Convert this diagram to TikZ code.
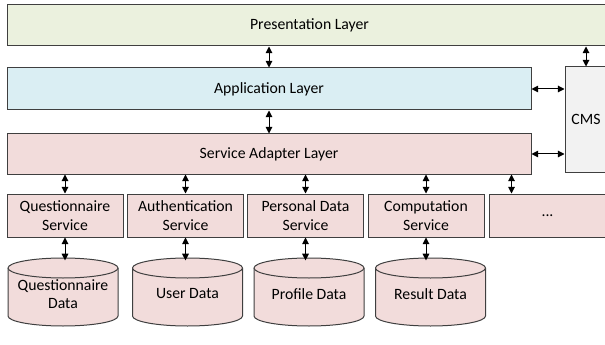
\documentclass[tikz,border=0pt]{standalone}
\usepackage{fontspec}
\setmainfont{Carlito}
\usetikzlibrary{arrows.meta}
\definecolor{presfill}{HTML}{EBF1DE}
\definecolor{appfill}{HTML}{DAEEF3}
\definecolor{pinkfill}{HTML}{F2DCDB}
\definecolor{cmsfill}{HTML}{F2F2F2}
\definecolor{edge}{HTML}{3F3F3F}
\newcommand\mydb[3]{%
  \filldraw[dbline] (#2-55,268) -- (#2-55,316) arc(180:360:41.25pt and 7.5pt) -- (#2+55,268) arc(0:180:41.25pt and 7.5pt) -- cycle;
  \draw[dbline] (#2-55,268) arc(180:360:41.25pt and 7.5pt);
  \node[dbtext] (#1) at (#2,292) {#3};}
\begin{document}
\begin{tikzpicture}[x=0.75pt,y=-0.75pt,
  font=\fontsize{11.8}{14}\selectfont,
  box/.style={draw=edge,line width=0.75pt,rectangle,inner sep=0pt,align=center},
  layer/.style={box,minimum width=393pt},
  svc/.style={box,fill=pinkfill,minimum width=87pt,minimum height=32.25pt},
  dbline/.style={draw=edge,line width=0.75pt,fill=pinkfill},
  dbtext/.style={rectangle,inner sep=0pt,minimum width=82.5pt,minimum height=51pt,align=center,yshift=-1.5pt},
  arr/.style={{Triangle[length=5pt,width=5pt]}-{Triangle[length=5pt,width=5pt]},line width=0.75pt,black}]
\useasboundingbox (0,0) rectangle (605,345);
\clip (0,0) rectangle (605,345);
\node[box,fill=presfill,minimum width=453.75pt,minimum height=30.75pt] (pres) at (309.5,25.5) {Presentation Layer};
\node[layer,fill=appfill,minimum height=31.5pt] (app) at (269,89) {Application Layer};
\node[layer,fill=pinkfill,minimum height=30pt] (sal) at (269,154) {Service Adapter Layer};
\node[box,fill=cmsfill,minimum width=31.5pt,minimum height=78.75pt] (cms) at (586,119.5) {CMS};
\node[svc] (qs) at (65,215.5) {Questionnaire\\Service};
\node[svc] (as) at (185.5,215.5) {Authentication\\Service};
\node[svc] (ps) at (305.5,215.5) {Personal Data\\Service};
\node[svc] (cs) at (426,215.5) {Computation\\Service};
\node[svc,minimum width=87.75pt] (ds) at (547.5,215.5) {...};
\mydb{qd}{63}{Questionnaire\\Data}
\mydb{ud}{187.5}{User Data}
\mydb{pd}{309}{Profile Data}
\mydb{rd}{430.5}{Result Data}
\draw[arr] (app.north |- pres.south) -- (app.north);
\draw[arr] (cms.north |- pres.south) -- (cms.north);
\draw[arr] (app.east) -- (app.east -| cms.west);
\draw[arr] (sal.east) -- (sal.east -| cms.west);
\draw[arr] (app.south) -- (app.south |- sal.north);
\foreach \s in {qs,as,ps,cs} {\draw[arr] (\s.north |- sal.south) -- (\s.north);}
\path (ds.north west) ++(23,0) coordinate (dtop);
\draw[arr] (dtop |- sal.south) -- (dtop);
\draw[arr] (qs.south) -- ([yshift=-0.5pt]qs.south |- qd.north);
\draw[arr] (as.south) -- ([yshift=-0.5pt]as.south |- ud.north);
\draw[arr] (ps.south) -- ([yshift=-0.5pt]ps.south |- pd.north);
\draw[arr] (cs.south) -- ([yshift=-0.5pt]cs.south |- rd.north);
\end{tikzpicture}
\end{document}
